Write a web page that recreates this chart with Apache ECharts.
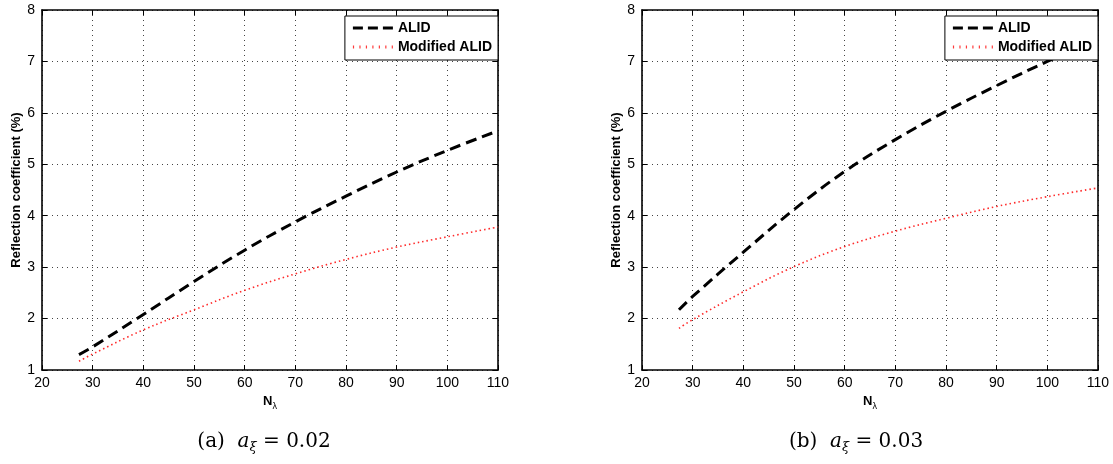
<!DOCTYPE html>
<html>
<head>
<meta charset="utf-8">
<script src="https://cdn.jsdelivr.net/npm/echarts@6/dist/echarts.min.js"></script>
<style>html,body{margin:0;padding:0;background:#fff}#c{width:1113px;height:464px}</style>
</head>
<body>
<div id="c"></div>
<script>
const nLambda = [27.3, 30, 40, 50, 60, 70, 80, 90, 100, 110];
const alidA = [1.30, 1.45, 2.08, 2.72, 3.33, 3.88, 4.38, 4.85, 5.27, 5.65];
const modA  = [1.17, 1.31, 1.78, 2.17, 2.55, 2.87, 3.15, 3.39, 3.59, 3.78];
const alidB = [2.17, 2.43, 3.29, 4.12, 4.86, 5.48, 6.03, 6.53, 7.00, 7.43];
const modB  = [1.81, 1.98, 2.52, 3.01, 3.40, 3.70, 3.95, 4.18, 4.37, 4.54];
const xTicks = {min: 20, max: 110, interval: 10};
const yTicks = {min: 1, max: 8, interval: 1};
const seriesNames = ['ALID', 'Modified ALID'];
const captions = ['(a)', '(b)'];
const captionValues = ['0.02', '0.03'];

const chart = echarts.init(document.getElementById('c'));
const FONT = 'Liberation Sans';
const pair = (xs, ys) => xs.map((x, i) => [x, ys[i]]);

const grids = [
  {left: 42, top: 10, width: 456, height: 360},
  {left: 642, top: 10, width: 456, height: 360}
];
const gridLine = {show: true, lineStyle: {color: '#444', type: [1, 4], width: 1}};
const axLine = {show: true, onZero: false, lineStyle: {color: '#000', width: 1.6}};
const tick = {show: true, inside: true, length: 5, lineStyle: {color: '#000', width: 1}};
const lbl = {color: '#000', fontFamily: FONT, fontSize: 14};

const xAxis = [], yAxis = [];
[0, 1].forEach(g => {
  xAxis.push({type: 'value', gridIndex: g, position: 'bottom', ...xTicks,
    axisLine: axLine, axisTick: tick, splitLine: gridLine,
    axisLabel: {...lbl, margin: 6},
    name: '{b|N}{s|λ}', nameLocation: 'middle', nameGap: 21,
    nameTextStyle: {rich: {b: {fontFamily: FONT, fontWeight: 'bold', fontSize: 13, color: '#000'},
                           s: {fontFamily: FONT, fontSize: 9, color: '#000', padding: [10, 0, 0, 0]}}}});
  xAxis.push({type: 'value', gridIndex: g, position: 'top', ...xTicks,
    axisLine: axLine, axisTick: tick, splitLine: {show: false}, axisLabel: {show: false}});
  yAxis.push({type: 'value', gridIndex: g, position: 'left', ...yTicks,
    axisLine: axLine, axisTick: tick, splitLine: gridLine,
    axisLabel: {...lbl, margin: 7},
    name: 'Reflection coefficient (%)', nameLocation: 'middle', nameGap: 18, nameRotate: 90,
    nameTextStyle: {fontFamily: FONT, fontWeight: 'bold', fontSize: 13, color: '#000'}});
  yAxis.push({type: 'value', gridIndex: g, position: 'right', ...yTicks,
    axisLine: axLine, axisTick: tick, splitLine: {show: false}, axisLabel: {show: false}});
});

const mkSeries = (name, data, g, dashed) => ({
  name, type: 'line', xAxisIndex: g * 2, yAxisIndex: g * 2, data,
  showSymbol: false, symbol: 'none', smooth: 0.4, z: 2,
  lineStyle: dashed ? {color: '#000', width: 3, type: [11, 6]} : {color: '#ff2a2a', width: 1.6, type: [1.5, 3]},
  itemStyle: {color: dashed ? '#000' : '#ff2a2a'}
});

const series = [
  mkSeries(seriesNames[0], pair(nLambda, alidA), 0, true),
  mkSeries(seriesNames[1], pair(nLambda, modA), 0, false),
  mkSeries(seriesNames[0], pair(nLambda, alidB), 1, true),
  mkSeries(seriesNames[1], pair(nLambda, modB), 1, false)
];

const dashIcon = 'path://M0,0H10V3H0Z M15,0H25V3H15Z M30,0H40V3H30Z';
let dotPath = 'path://';
for (let k = 0; k <= 6; k++) { const x0 = k * 6.5; dotPath += 'M' + x0 + ',0H' + (x0 + 1.2) + 'V3H' + x0 + 'Z '; }
dotPath += 'M40,0H40.01V3H40Z';

const legendBase = {
  orient: 'vertical', top: 16, itemWidth: 40, itemHeight: 3, itemGap: 5,
  padding: [5, 6, 6, 8], backgroundColor: '#fff', borderColor: '#000', borderWidth: 1,
  borderRadius: 0, selectedMode: false,
  data: [{name: seriesNames[0], icon: dashIcon, itemStyle: {color: '#000'}},
         {name: seriesNames[1], icon: dotPath.trim(), itemStyle: {color: '#ff3b3b'}}],
  textStyle: {fontFamily: FONT, fontWeight: 'bold', fontSize: 14, color: '#000'}, z: 10
};

const capRich = {
  n: {fontFamily: 'DejaVu Serif', fontSize: 20, color: '#000'},
  i: {fontFamily: 'DejaVu Serif', fontStyle: 'italic', fontSize: 20, color: '#000'},
  s: {fontFamily: 'DejaVu Serif', fontStyle: 'italic', fontSize: 13, color: '#000', padding: [12, 0, 0, 0]}
};
const graphic = [264, 856].map((cx, i) => ({
  type: 'text', x: cx, y: 429, z: 10,
  style: {text: '{n|' + captions[i] + '  }{i|a}{s|ξ}{n| = ' + captionValues[i] + '}', rich: capRich, align: 'center'}
}));

chart.setOption({
  animation: false,
  grid: grids,
  xAxis, yAxis, series,
  legend: [{...legendBase, right: 1113 - 498}, {...legendBase, right: 1113 - 1098}],
  graphic
});
</script>
</body>
</html>
